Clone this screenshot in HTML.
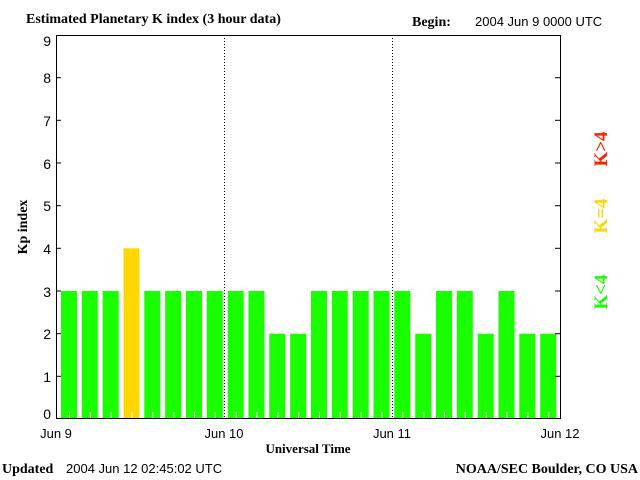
<!DOCTYPE html>
<html><head><style>body{margin:0;background:#fff}svg{display:block}</style></head><body>
<svg width="640" height="480" xmlns="http://www.w3.org/2000/svg">
<rect width="640" height="480" fill="#fff"/>
<text x="26" y="23" font-family="Liberation Serif, serif" font-weight="bold" font-size="14">Estimated Planetary K index (3 hour data)</text>
<text x="412" y="26" font-family="Liberation Serif, serif" font-weight="bold" font-size="14">Begin:</text>
<text x="475" y="26" font-family="Liberation Sans, sans-serif" font-size="13">2004 Jun 9 0000 UTC</text>
<g fill="#1aff00">
<rect x="61" y="291" width="16" height="128"/>
<rect x="81.8" y="291" width="16" height="128"/>
<rect x="102.7" y="291" width="16" height="128"/>
<rect x="123.5" y="248.3" width="16" height="170.7" fill="#ffd700"/>
<rect x="144.3" y="291" width="16" height="128"/>
<rect x="165.2" y="291" width="16" height="128"/>
<rect x="186" y="291" width="16" height="128"/>
<rect x="206.8" y="291" width="16" height="128"/>
<rect x="227.7" y="291" width="16" height="128"/>
<rect x="248.5" y="291" width="16" height="128"/>
<rect x="269.3" y="333.7" width="16" height="85.3"/>
<rect x="290.2" y="333.7" width="16" height="85.3"/>
<rect x="311" y="291" width="16" height="128"/>
<rect x="331.8" y="291" width="16" height="128"/>
<rect x="352.7" y="291" width="16" height="128"/>
<rect x="373.5" y="291" width="16" height="128"/>
<rect x="394.3" y="291" width="16" height="128"/>
<rect x="415.2" y="333.7" width="16" height="85.3"/>
<rect x="436" y="291" width="16" height="128"/>
<rect x="456.8" y="291" width="16" height="128"/>
<rect x="477.7" y="333.7" width="16" height="85.3"/>
<rect x="498.5" y="291" width="16" height="128"/>
<rect x="519.3" y="333.7" width="16" height="85.3"/>
<rect x="540.2" y="333.7" width="16" height="85.3"/>
</g>
<g stroke="#fff">
<line x1="69.5" y1="412" x2="69.5" y2="419"/><line x1="90.3" y1="412" x2="90.3" y2="419"/><line x1="111.2" y1="412" x2="111.2" y2="419"/><line x1="132" y1="412" x2="132" y2="419"/><line x1="152.8" y1="412" x2="152.8" y2="419"/><line x1="173.7" y1="412" x2="173.7" y2="419"/><line x1="194.5" y1="412" x2="194.5" y2="419"/><line x1="215.3" y1="412" x2="215.3" y2="419"/><line x1="236.2" y1="412" x2="236.2" y2="419"/><line x1="257" y1="412" x2="257" y2="419"/><line x1="277.8" y1="412" x2="277.8" y2="419"/><line x1="298.7" y1="412" x2="298.7" y2="419"/><line x1="319.5" y1="412" x2="319.5" y2="419"/><line x1="340.3" y1="412" x2="340.3" y2="419"/><line x1="361.2" y1="412" x2="361.2" y2="419"/><line x1="382" y1="412" x2="382" y2="419"/><line x1="402.8" y1="412" x2="402.8" y2="419"/><line x1="423.7" y1="412" x2="423.7" y2="419"/><line x1="444.5" y1="412" x2="444.5" y2="419"/><line x1="465.3" y1="412" x2="465.3" y2="419"/><line x1="486.2" y1="412" x2="486.2" y2="419"/><line x1="507" y1="412" x2="507" y2="419"/><line x1="527.8" y1="412" x2="527.8" y2="419"/><line x1="548.7" y1="412" x2="548.7" y2="419"/>
</g>
<line x1="224.5" y1="35" x2="224.5" y2="419" stroke="#000" stroke-dasharray="1,2"/>
<line x1="392.5" y1="35" x2="392.5" y2="419" stroke="#000" stroke-dasharray="1,2"/>
<rect x="56.5" y="35.5" width="504" height="383" fill="none" stroke="#000"/>
<g stroke="#000">
<line x1="56" y1="376.3" x2="61" y2="376.3"/><line x1="56" y1="333.7" x2="61" y2="333.7"/><line x1="56" y1="291" x2="61" y2="291"/><line x1="56" y1="248.3" x2="61" y2="248.3"/><line x1="56" y1="205.7" x2="61" y2="205.7"/><line x1="56" y1="163" x2="61" y2="163"/><line x1="56" y1="120.3" x2="61" y2="120.3"/><line x1="56" y1="77.7" x2="61" y2="77.7"/>
<line x1="555" y1="376.3" x2="560" y2="376.3"/><line x1="555" y1="333.7" x2="560" y2="333.7"/><line x1="555" y1="291" x2="560" y2="291"/><line x1="555" y1="248.3" x2="560" y2="248.3"/><line x1="555" y1="205.7" x2="560" y2="205.7"/><line x1="555" y1="163" x2="560" y2="163"/><line x1="555" y1="120.3" x2="560" y2="120.3"/><line x1="555" y1="77.7" x2="560" y2="77.7"/>
</g>
<g font-family="Liberation Sans, sans-serif" font-size="14" text-anchor="end">
<text x="51" y="419">0</text><text x="51" y="382">1</text><text x="51" y="339">2</text><text x="51" y="297">3</text><text x="51" y="254">4</text><text x="51" y="211">5</text><text x="51" y="169">6</text><text x="51" y="126">7</text><text x="51" y="83">8</text><text x="51" y="46">9</text>
</g>
<g font-family="Liberation Sans, sans-serif" font-size="13" text-anchor="middle">
<text x="56" y="438">Jun 9</text><text x="224" y="438">Jun 10</text><text x="392" y="438">Jun 11</text><text x="560" y="438">Jun 12</text>
</g>
<text x="308" y="453" text-anchor="middle" font-family="Liberation Serif, serif" font-weight="bold" font-size="13">Universal Time</text>
<text transform="translate(27,227) rotate(-90)" text-anchor="middle" font-family="Liberation Serif, serif" font-weight="bold" font-size="14">Kp index</text>
<g font-family="Liberation Serif, serif" font-weight="bold" font-size="19" text-anchor="middle">
<text transform="translate(607,149) rotate(-90)" fill="#ff2000">K&gt;4</text>
<text transform="translate(607,216) rotate(-90)" fill="#ffd700">K=4</text>
<text transform="translate(607,292) rotate(-90)" fill="#1aff00">K&lt;4</text>
</g>
<text x="2" y="473" font-family="Liberation Serif, serif" font-weight="bold" font-size="14">Updated</text>
<text x="66" y="473" font-family="Liberation Sans, sans-serif" font-size="13">2004 Jun 12 02:45:02 UTC</text>
<text x="638" y="473" text-anchor="end" font-family="Liberation Serif, serif" font-weight="bold" font-size="14">NOAA/SEC Boulder, CO USA</text>
</svg>
</body></html>
